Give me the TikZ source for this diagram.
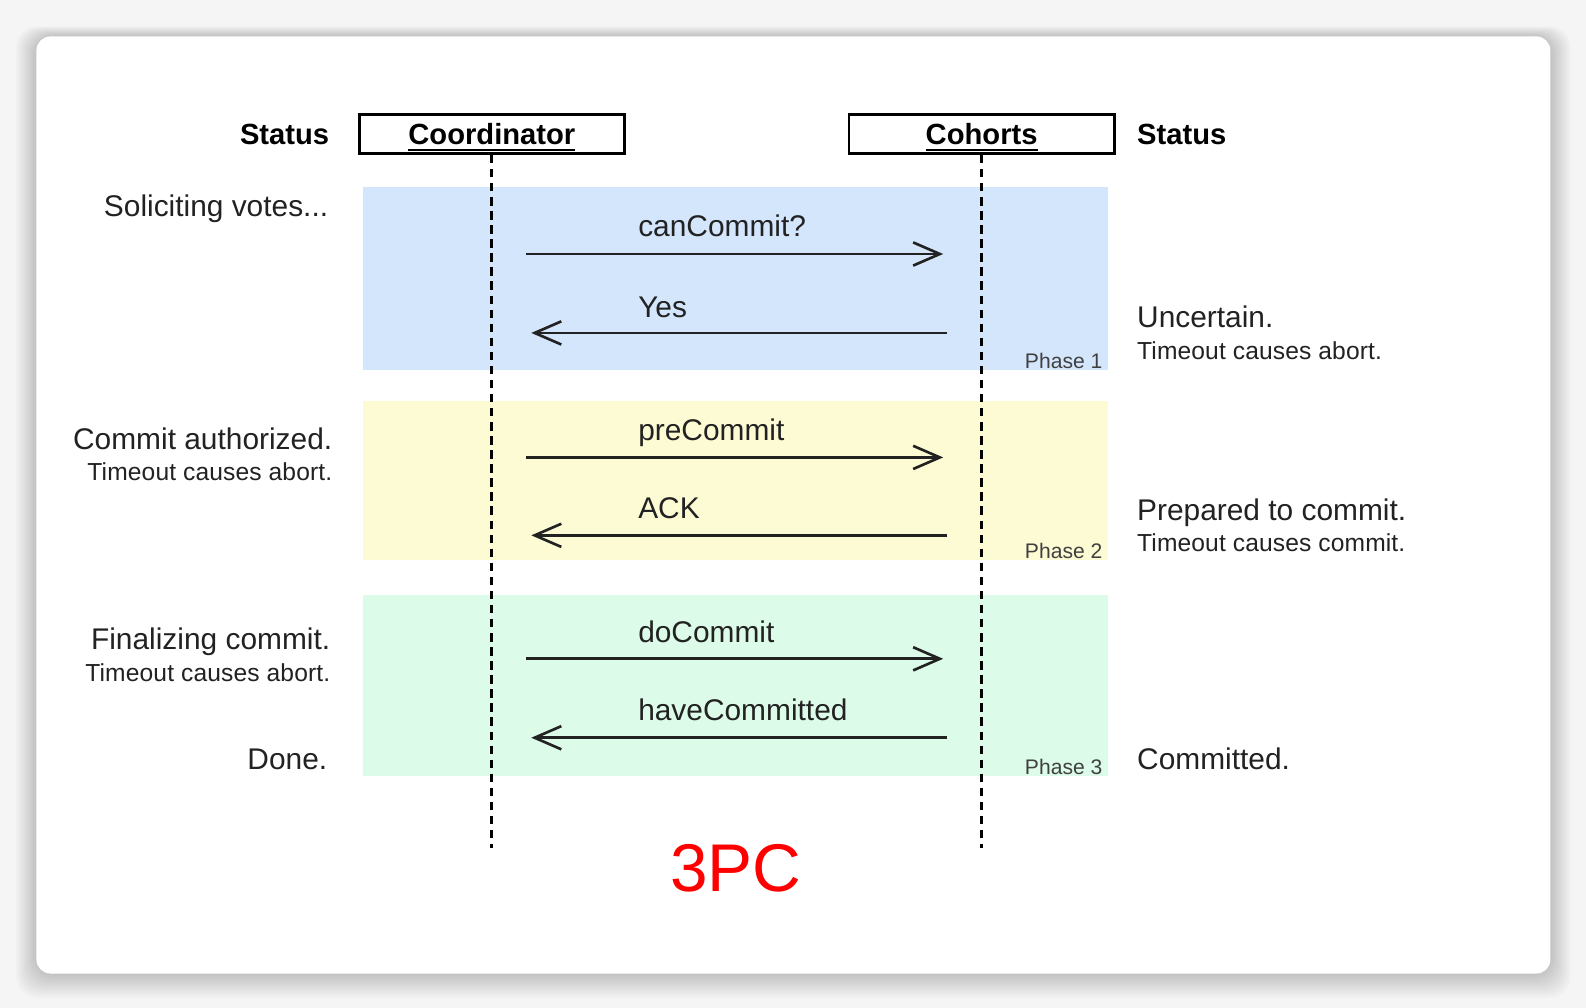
\documentclass[tikz,border=0pt]{standalone}
\usepackage{fontspec}
\setmainfont{Liberation Sans}
\usetikzlibrary{arrows.meta, positioning}
\definecolor{bandA}{HTML}{D4E6FC}
\definecolor{bandB}{HTML}{FDFBD4}
\definecolor{bandC}{HTML}{DCFBE8}
\definecolor{inkgray}{HTML}{222222}
\tikzset{
  txt/.style={font=\fontsize{8.5}{10}\selectfont, inner sep=0pt, text=inkgray},
  small/.style={font=\fontsize{7}{8}\selectfont\addfontfeatures{LetterSpace=0.5}, inner sep=0pt, text=inkgray},
  head/.style={font=\fontsize{8.3}{10}\selectfont\bfseries, inner sep=0pt},
  actor/.style={draw, line width=0.75pt, minimum width=2.65cm, inner sep=0pt,
    text height=8.6pt, text depth=2.5pt, font=\fontsize{8.3}{10}\selectfont\bfseries},
  life/.style={line width=0.85pt, dash pattern=on 2.4pt off 1.6pt},
  msg/.style={line width=0.75pt, inkgray, -{Straight Barb[length=7.6pt, width=6.6pt]}},
  phase/.style={font=\fontsize{6}{7}\selectfont, inner sep=0pt, text=black!75}
}
\begin{document}
\begin{tikzpicture}[x=0.01012cm, y=-0.01012cm]
  \useasboundingbox (0,0) rectangle (1567.2,996.05);
  % backdrop and card
  \fill[black!4] (0,0) rectangle (1567.2,996.05);
  \foreach \s in {2,4,...,20}
    \fill[black, opacity=0.018, rounded corners=6pt] (36-\s,36-\s*0.5) rectangle (1532+\s,962+\s*1.2);
  \fill[white, rounded corners=4pt] (36,36) rectangle (1532,962);

  % phase bands
  \fill[bandA] (359,185) rectangle (1095,366);
  \fill[bandB] (359,396) rectangle (1095,553);
  \fill[bandC] (359,588) rectangle (1095,767);
  \node[phase, anchor=base east] (ph1) at (1090,364) {Phase 1};
  \node[phase, anchor=base east] (ph2) at (1090,552) {Phase 2};
  \node[phase, anchor=base east] (ph3) at (1090,765) {Phase 3};

  % actors and lifelines
  \node[actor] (coord) at (486,132.5) {\underline{Coordinator}};
  \node[actor] (cohort) at (970,132.5) {\underline{Cohorts}};
  \coordinate (coordend) at (486,838);
  \coordinate (cohortend) at (970,838);
  \draw[life] (coord.south) -- (coordend);
  \draw[life] (cohort.south) -- (cohortend);

  \node[head, anchor=base east] (stL) at (326,143) {Status};
  \node[head, anchor=base west] (stR) at (1123,143) {Status};

  % messages
  \coordinate (a1) at (520,251);  \coordinate (b1) at (932,251);
  \coordinate (a2) at (525,329);  \coordinate (b2) at (936,329);
  \coordinate (a3) at (520,452);  \coordinate (b3) at (932,452);
  \coordinate (a4) at (525,529);  \coordinate (b4) at (936,529);
  \coordinate (a5) at (520,651);  \coordinate (b5) at (932,651);
  \coordinate (a6) at (525,729);  \coordinate (b6) at (936,729);
  \draw[msg] (a1) -- (b1);
  \draw[msg] (b2) -- (a2);
  \draw[msg] (a3) -- (b3);
  \draw[msg] (b4) -- (a4);
  \draw[msg] (a5) -- (b5);
  \draw[msg] (b6) -- (a6);
  \node[txt, anchor=base west] (m1) at (630,234) {canCommit?};
  \node[txt, anchor=base west] (m2) at (630,314) {Yes};
  \node[txt, anchor=base west] (m3) at (630,435) {preCommit};
  \node[txt, anchor=base west] (m4) at (630,512) {ACK};
  \node[txt, anchor=base west] (m5) at (630,635) {doCommit};
  \node[txt, anchor=base west] (m6) at (630,712) {haveCommitted};

  % coordinator status
  \node[txt, anchor=base east] (sL1) at (325,214) {Soliciting votes...};
  \node[txt, anchor=base east] (sL2) at (329,444) {Commit authorized.};
  \node[small, anchor=base east] (sL2t) at (329,475) {Timeout causes abort.};
  \node[txt, anchor=base east] (sL3) at (327,642) {Finalizing commit.};
  \node[small, anchor=base east] (sL3t) at (327,673) {Timeout causes abort.};
  \node[txt, anchor=base east] (sL4) at (324,760) {Done.};

  % cohort status
  \node[txt, anchor=base west] (sR1) at (1123,324) {Uncertain.};
  \node[small, anchor=base west] (sR1t) at (1123,355) {Timeout causes abort.};
  \node[txt, anchor=base west] (sR2) at (1123,514) {Prepared to commit.};
  \node[small, anchor=base west] (sR2t) at (1123,545) {Timeout causes commit.};
  \node[txt, anchor=base west] (sR3) at (1123,760) {Committed.};

  \node[font=\fontsize{19.2}{22}\selectfont, text=red, inner sep=0pt] (title) at (727,858) {3PC};
\end{tikzpicture}
\end{document}
